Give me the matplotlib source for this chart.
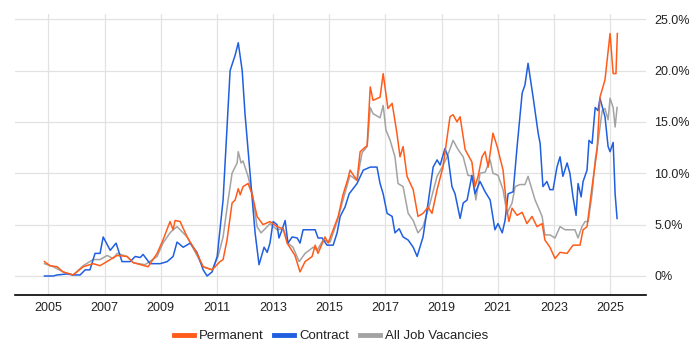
import matplotlib
matplotlib.use("Agg")
import matplotlib.pyplot as plt
from matplotlib.ticker import FuncFormatter
from matplotlib.lines import Line2D

plt.rcParams['font.family'] = ['Liberation Sans', 'DejaVu Sans']

permanent = [(2004.86, 1.4), (2005.06, 1.0), (2005.31, 0.9), (2005.52, 0.4), (2005.88, 0.1), (2006.24, 0.9),
             (2006.59, 1.2), (2006.84, 1.0), (2007.20, 1.6), (2007.45, 2.0), (2007.80, 1.9), (2008.02, 1.3),
             (2008.55, 0.9), (2008.87, 2.2), (2009.08, 3.5), (2009.33, 5.3), (2009.44, 4.5), (2009.51, 5.4),
             (2009.69, 5.3), (2009.94, 3.8), (2010.29, 2.2), (2010.51, 0.9), (2010.83, 0.6), (2011.11, 1.4),
             (2011.22, 1.6), (2011.36, 3.5), (2011.54, 7.1), (2011.65, 7.4), (2011.76, 8.5), (2011.83, 7.9),
             (2011.93, 8.7), (2012.11, 9.0), (2012.25, 8.0), (2012.43, 5.8), (2012.64, 5.0), (2012.89, 5.3),
             (2013.14, 4.8), (2013.36, 4.6), (2013.50, 3.2), (2013.78, 2.0), (2013.96, 0.4), (2014.14, 1.4),
             (2014.39, 1.9), (2014.50, 3.0), (2014.60, 2.2), (2014.85, 3.8), (2014.96, 3.2), (2015.14, 4.5),
             (2015.32, 5.8), (2015.49, 7.9), (2015.67, 9.5), (2015.74, 10.3), (2015.99, 9.3), (2016.10, 12.1),
             (2016.35, 12.7), (2016.46, 18.4), (2016.56, 17.1), (2016.81, 17.4), (2016.92, 19.7), (2017.09, 16.3),
             (2017.24, 16.8), (2017.41, 13.9), (2017.52, 11.6), (2017.63, 12.6), (2017.77, 9.7), (2017.99, 8.4),
             (2018.16, 5.8), (2018.34, 6.1), (2018.52, 6.7), (2018.66, 6.1), (2018.84, 8.4), (2019.05, 10.6),
             (2019.30, 15.5), (2019.41, 15.7), (2019.55, 15.0), (2019.66, 15.5), (2019.84, 12.3), (2020.08, 11.1),
             (2020.19, 8.7), (2020.30, 9.7), (2020.44, 11.6), (2020.55, 12.1), (2020.66, 10.6), (2020.83, 13.9),
             (2020.98, 12.6), (2021.19, 10.3), (2021.33, 6.4), (2021.40, 5.3), (2021.51, 6.6), (2021.69, 5.9),
             (2021.87, 6.2), (2022.04, 5.1), (2022.22, 5.8), (2022.40, 4.8), (2022.58, 5.1), (2022.68, 3.5),
             (2022.86, 2.8), (2023.04, 1.7), (2023.22, 2.3), (2023.47, 2.2), (2023.68, 3.0), (2023.93, 3.0),
             (2024.04, 4.5), (2024.18, 4.8), (2024.36, 8.7), (2024.54, 12.3), (2024.64, 17.4), (2024.82, 19.1),
             (2025.00, 23.6), (2025.11, 19.7), (2025.21, 19.7), (2025.26, 23.6)]

contract = [(2004.86, 0.0), (2005.17, 0.0), (2005.31, 0.1), (2005.67, 0.2), (2005.88, 0.1), (2006.13, 0.1),
            (2006.31, 0.6), (2006.48, 0.6), (2006.66, 2.2), (2006.84, 2.2), (2006.95, 3.8), (2007.20, 2.5),
            (2007.41, 3.2), (2007.62, 1.4), (2007.91, 1.4), (2008.09, 1.9), (2008.27, 1.8), (2008.37, 2.1),
            (2008.62, 1.2), (2008.98, 1.2), (2009.23, 1.4), (2009.44, 1.9), (2009.58, 3.3), (2009.80, 2.8),
            (2010.05, 3.2), (2010.29, 2.3), (2010.51, 0.6), (2010.65, 0.0), (2010.83, 0.4), (2011.01, 1.9),
            (2011.22, 7.4), (2011.47, 20.0), (2011.65, 21.5), (2011.76, 22.7), (2011.90, 20.0), (2012.00, 15.8),
            (2012.18, 10.0), (2012.36, 4.2), (2012.50, 1.1), (2012.68, 2.8), (2012.79, 2.3), (2012.89, 3.2),
            (2013.00, 5.3), (2013.14, 5.0), (2013.21, 3.7), (2013.32, 4.5), (2013.43, 5.4), (2013.53, 3.2),
            (2013.68, 3.8), (2013.86, 3.7), (2013.96, 3.2), (2014.07, 4.5), (2014.32, 4.5), (2014.50, 4.5),
            (2014.60, 3.7), (2014.75, 3.7), (2014.92, 3.0), (2015.14, 3.0), (2015.28, 4.2), (2015.39, 5.8),
            (2015.56, 6.7), (2015.71, 8.0), (2015.99, 9.0), (2016.21, 10.3), (2016.46, 10.6), (2016.70, 10.6),
            (2016.81, 9.0), (2016.92, 8.0), (2017.06, 6.1), (2017.24, 5.8), (2017.34, 4.2), (2017.49, 4.6),
            (2017.63, 3.8), (2017.81, 3.5), (2017.99, 2.8), (2018.13, 1.9), (2018.34, 3.8), (2018.52, 7.1),
            (2018.70, 10.6), (2018.84, 11.3), (2018.95, 10.8), (2019.12, 12.4), (2019.23, 11.6), (2019.37, 8.7),
            (2019.48, 8.0), (2019.66, 5.6), (2019.77, 7.1), (2019.91, 7.4), (2020.08, 9.8), (2020.19, 8.0),
            (2020.37, 9.2), (2020.55, 8.2), (2020.73, 7.4), (2020.90, 4.5), (2021.01, 5.1), (2021.16, 4.2),
            (2021.26, 5.4), (2021.37, 8.0), (2021.55, 8.2), (2021.69, 12.6), (2021.87, 17.8), (2021.97, 18.6),
            (2022.08, 20.7), (2022.26, 17.4), (2022.44, 13.9), (2022.51, 12.9), (2022.61, 8.7), (2022.75, 9.2),
            (2022.86, 8.4), (2022.97, 8.4), (2023.11, 10.6), (2023.22, 11.6), (2023.32, 9.7), (2023.47, 11.0),
            (2023.57, 10.0), (2023.68, 7.7), (2023.79, 5.9), (2023.86, 9.0), (2023.97, 7.7), (2024.04, 9.2),
            (2024.18, 10.3), (2024.25, 13.2), (2024.36, 12.9), (2024.47, 16.4), (2024.57, 16.1), (2024.64, 17.3),
            (2024.82, 15.5), (2024.93, 12.6), (2025.00, 12.1), (2025.11, 13.0), (2025.18, 8.0), (2025.25, 5.6)]

all_jobs = [(2004.86, 1.2), (2005.17, 0.9), (2005.52, 0.4), (2005.88, 0.1), (2006.24, 1.0), (2006.59, 1.6),
            (2006.84, 1.6), (2007.09, 2.0), (2007.30, 1.7), (2007.45, 2.2), (2007.80, 1.9), (2008.02, 1.3),
            (2008.44, 1.1), (2008.87, 1.9), (2009.08, 3.2), (2009.33, 4.2), (2009.44, 4.5), (2009.58, 4.8),
            (2009.69, 4.5), (2009.94, 3.8), (2010.29, 2.0), (2010.51, 0.9), (2010.83, 0.6), (2011.04, 1.9),
            (2011.22, 3.8), (2011.40, 7.4), (2011.54, 10.0), (2011.72, 11.0), (2011.76, 12.1), (2011.86, 11.0),
            (2011.93, 11.2), (2012.11, 9.7), (2012.28, 7.7), (2012.43, 4.8), (2012.57, 4.2), (2012.72, 4.6),
            (2012.89, 5.1), (2013.14, 4.5), (2013.36, 4.6), (2013.53, 3.2), (2013.71, 2.8), (2013.93, 1.4),
            (2014.14, 2.2), (2014.43, 2.8), (2014.57, 2.5), (2014.78, 3.5), (2015.03, 3.3), (2015.28, 5.3),
            (2015.49, 7.4), (2015.74, 9.8), (2015.99, 9.3), (2016.17, 12.0), (2016.35, 12.6), (2016.46, 16.4),
            (2016.56, 15.8), (2016.81, 15.4), (2016.92, 16.6), (2017.02, 14.2), (2017.17, 13.2), (2017.34, 11.6),
            (2017.45, 9.0), (2017.63, 8.7), (2017.81, 6.1), (2017.99, 5.4), (2018.16, 4.2), (2018.34, 4.8),
            (2018.59, 7.1), (2018.84, 9.7), (2019.02, 10.6), (2019.20, 11.6), (2019.41, 13.2), (2019.59, 12.3),
            (2019.77, 11.6), (2019.94, 9.8), (2020.12, 9.7), (2020.22, 7.4), (2020.37, 10.0), (2020.55, 10.1),
            (2020.73, 11.3), (2020.83, 10.0), (2021.01, 9.8), (2021.19, 8.4), (2021.33, 6.1), (2021.51, 7.1),
            (2021.62, 8.7), (2021.79, 8.9), (2021.97, 8.9), (2022.08, 9.7), (2022.22, 8.4), (2022.33, 7.4),
            (2022.44, 6.7), (2022.58, 5.8), (2022.68, 4.0), (2022.86, 4.0), (2023.04, 3.7), (2023.22, 4.8),
            (2023.40, 4.5), (2023.57, 4.5), (2023.75, 4.5), (2023.86, 3.7), (2024.00, 4.8), (2024.11, 5.3),
            (2024.22, 5.3), (2024.36, 8.0), (2024.47, 11.3), (2024.57, 13.0), (2024.72, 16.1), (2024.82, 16.3),
            (2024.93, 15.2), (2025.00, 17.3), (2025.11, 16.4), (2025.18, 14.5), (2025.25, 16.4)]

x_ticks = [2005, 2007, 2009, 2011, 2013, 2015, 2017, 2019, 2021, 2023, 2025]
y_ticks = [0, 5, 10, 15, 20, 25]

series = [
    ("All Job Vacancies", all_jobs, "#a3a3a3"),
    ("Contract", contract, "#1f5fe0"),
    ("Permanent", permanent, "#ff5c1a"),
]

fig = plt.figure(figsize=(7, 3.5), dpi=100)
ax = fig.add_axes([15 / 700, 55 / 350, 631 / 700, 281 / 350])

for name, data, color in series:
    xs = [d[0] for d in data]
    ys = [d[1] for d in data]
    ax.plot(xs, ys, color=color, lw=1.1, solid_joinstyle="round")

ax.set_xlim(2003.81, 2026.28)
ax.set_ylim(-1.85, 25.5)
ax.set_xticks(x_ticks)
ax.set_xticklabels([str(t) for t in x_ticks])
ax.set_yticks(y_ticks)
ax.yaxis.set_major_formatter(FuncFormatter(lambda v, p: "0%" if v == 0 else f"{v:.1f}%"))
ax.yaxis.tick_right()
ax.tick_params(axis="y", length=0, pad=6, labelsize=9, labelcolor="#222222")
ax.tick_params(axis="x", length=0, pad=5, labelsize=9, labelcolor="#222222")
ax.grid(True, color="#e2e2e2", lw=0.9)
ax.set_axisbelow(True)
for s in ["top", "left", "right"]:
    ax.spines[s].set_visible(False)
ax.spines["bottom"].set_color("#000000")
ax.spines["bottom"].set_linewidth(1.2)

leg_handles = [Line2D([0], [0], color=c, lw=3.5) for c in ["#ff5c1a", "#1f5fe0", "#a3a3a3"]]
fig.legend(leg_handles, ["Permanent", "Contract", "All Job Vacancies"], loc="center",
           bbox_to_anchor=(331 / 700, 14 / 350), ncol=3, frameon=False, fontsize=9.5,
           handlelength=1.5, handletextpad=0.4, columnspacing=0.8, labelcolor="#222222")

fig.savefig("out.png", dpi=100)
